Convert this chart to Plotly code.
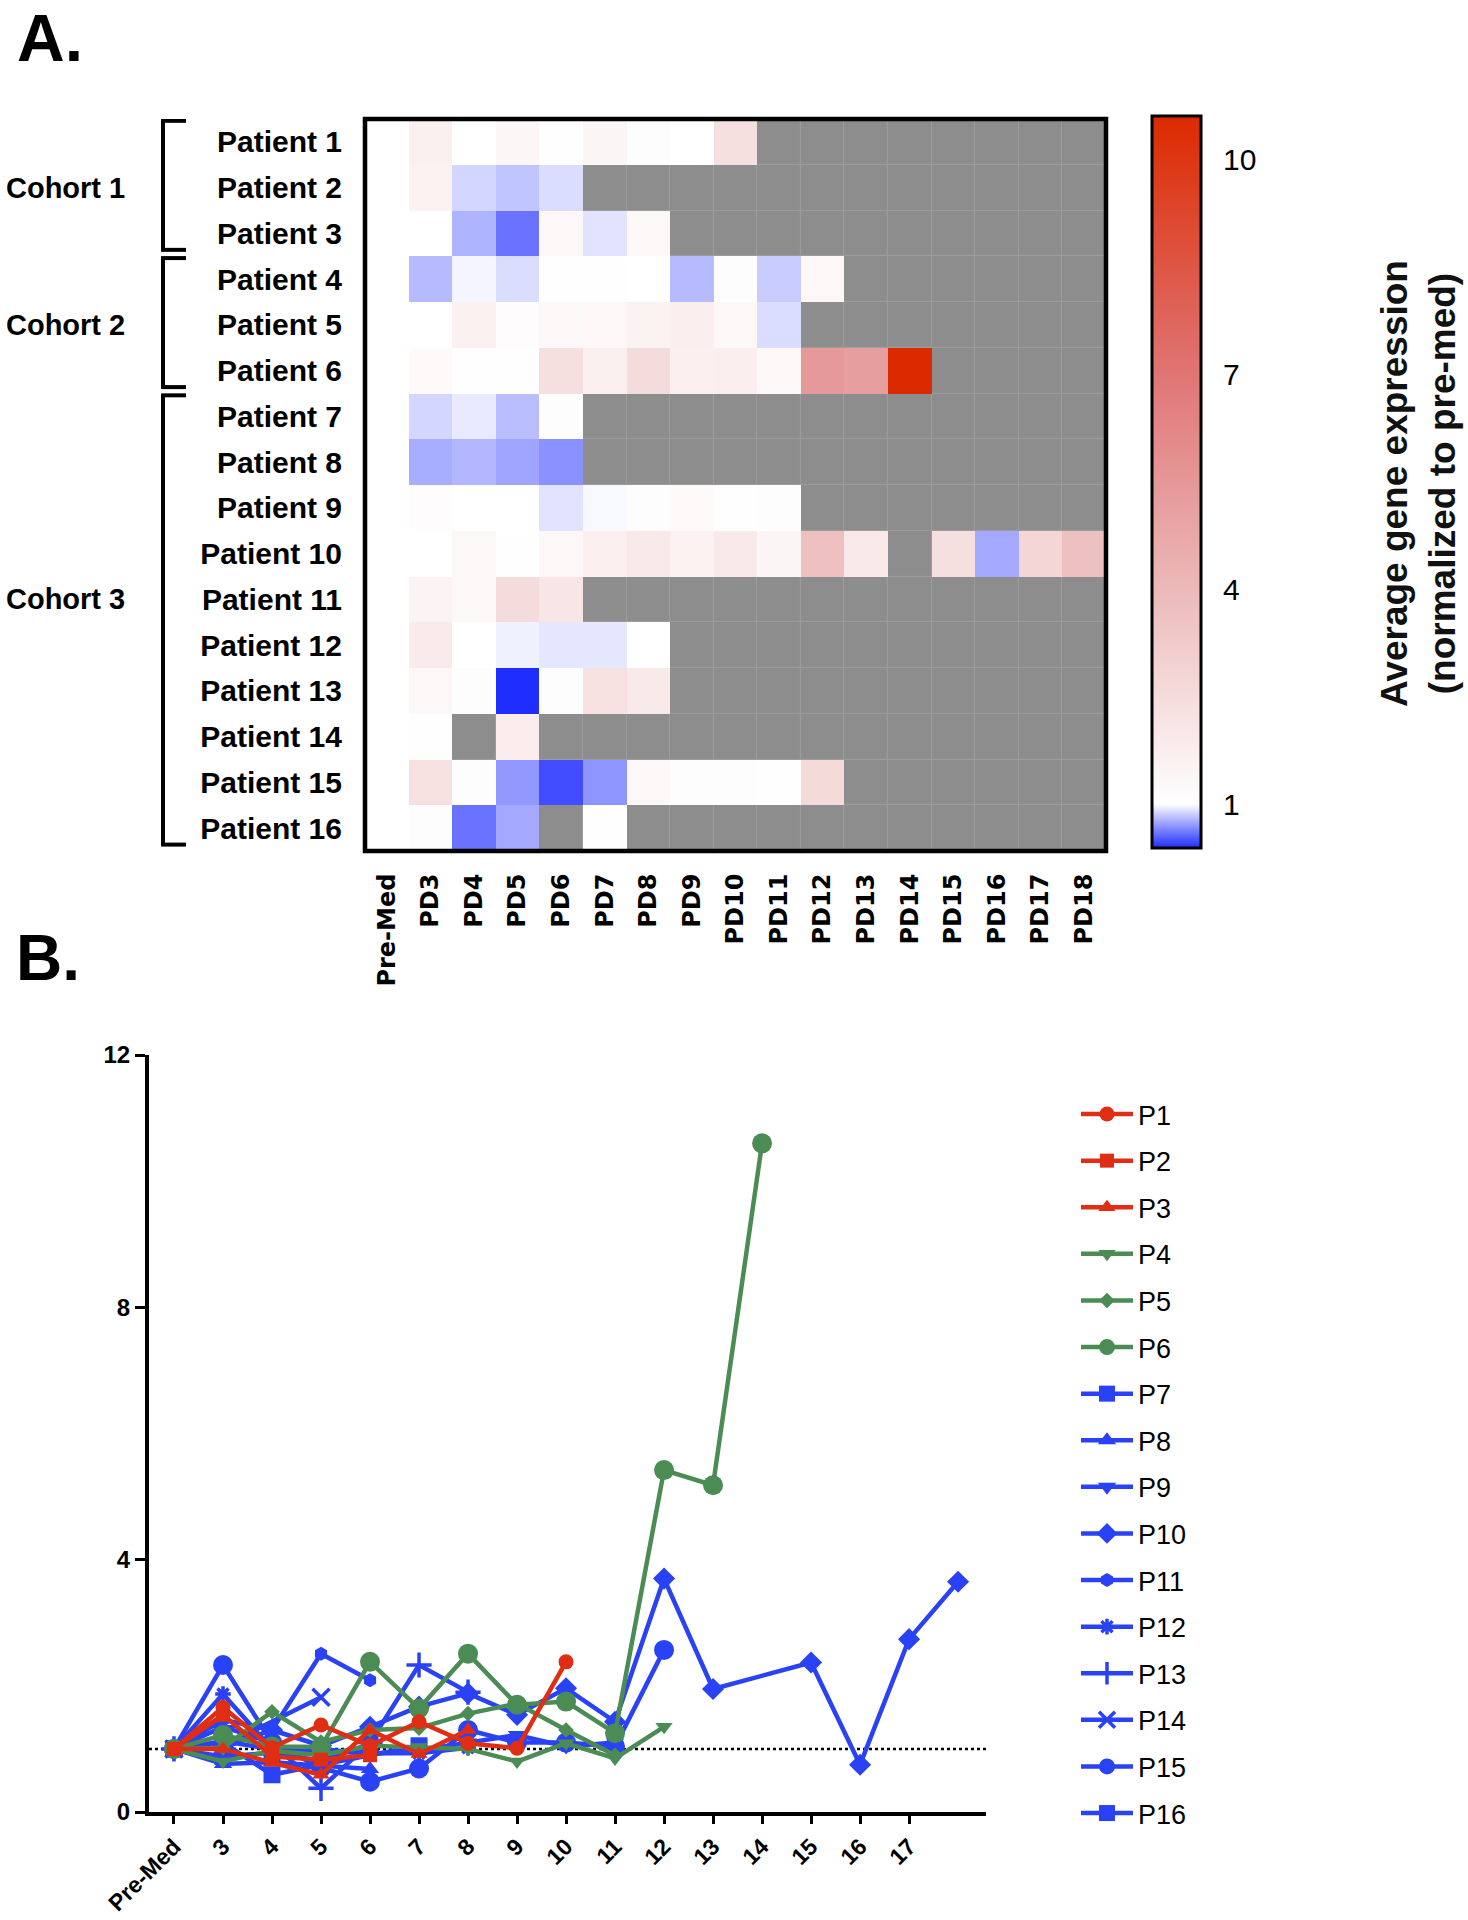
import plotly.graph_objects as go

# ---------------- data ----------------
timepoints = ["Pre-Med", "PD3", "PD4", "PD5", "PD6", "PD7", "PD8", "PD9", "PD10",
              "PD11", "PD12", "PD13", "PD14", "PD15", "PD16", "PD17", "PD18"]
patients = ["Patient 1", "Patient 2", "Patient 3", "Patient 4", "Patient 5", "Patient 6",
            "Patient 7", "Patient 8", "Patient 9", "Patient 10", "Patient 11", "Patient 12",
            "Patient 13", "Patient 14", "Patient 15", "Patient 16"]
series_names = ["P1", "P2", "P3", "P4", "P5", "P6", "P7", "P8",
                "P9", "P10", "P11", "P12", "P13", "P14", "P15", "P16"]

# values per patient: Pre-Med, PD3, PD4, ... (None = not measured)
p1 = [1, 1.66, 1.02, 1.38, 1.05, 1.43, 1.09, 1.01, 2.38]
p2 = [1, 1.54, 0.88, 0.83, 0.90]
p3 = [1, 1.00, 0.78, 0.59, 1.30, 0.92, 1.30]
p4 = [1, 0.80, 0.97, 0.90, 1.05, 1.03, 1.00, 0.80, 1.09, 0.85, 1.35]
p5 = [1, 1.02, 1.59, 1.11, 1.30, 1.33, 1.56, 1.72, 1.30, 0.90]
p6 = [1, 1.22, 1.04, 1.03, 2.38, 1.64, 2.51, 1.70, 1.75, 1.25, 5.42, 5.18, 10.6]
p7 = [1, 0.88, 0.94, 0.81, 1.08]
p8 = [1, 0.76, 0.79, 0.74, 0.68]
p9 = [1, 1.12, 1.00, 1.00, 0.92, 0.98, 1.10, 1.22, 1.04, 1.10]
p10 = [1, 1.02, 1.30, 1.05, 1.35, 1.67, 1.88, 1.54, 1.96, 1.43, 3.70, 1.95, None, 2.37, 0.75, 2.74, 3.65]
p11 = [1, 1.46, 1.30, 2.51, 2.09]
p12 = [1, 1.87, 1.00, 0.96, 0.93, 0.93, 1.02]
p13 = [1, 1.35, 1.10, 0.375, 1.10, 2.33, 1.90]
p14 = [1, 1.05, None, 1.82]
p15 = [1, 2.33, 1.10, 0.70, 0.48, 0.69, 1.30, 1.10, 1.10, 1.04, 2.57]
p16 = [1, 1.10, 0.59, 0.75, None, 1.05]
patient_values = [p1, p2, p3, p4, p5, p6, p7, p8, p9, p10, p11, p12, p13, p14, p15, p16]

cohort_names = ["Cohort 1", "Cohort 2", "Cohort 3"]
cohort_first_row = [0, 3, 6]
cohort_last_row = [2, 5, 15]
cohort_label_row = [1, 4, 10]

day_positions = [2, 3, 4, 5, 6, 7, 8, 9, 10, 11, 12, 13, 14, 15, 16, 17, 18]
day_tick_positions = [2, 3, 4, 5, 6, 7, 8, 9, 10, 11, 12, 13, 14, 15, 16, 17]
day_tick_labels = ["Pre-Med", "3", "4", "5", "6", "7", "8", "9", "10",
                   "11", "12", "13", "14", "15", "16", "17"]
y_ticks = [0, 4, 8, 12]
cbar_ticks = [1, 4, 7, 10]
reference_level = 1
zmin, zmax = 0.386, 10.6

# ---------------- styles ----------------
W, H = 1468, 1920
def fx(px): return px / W
def fy(py): return 1 - py / H

RED, GREEN, BLUE = "#DF2E14", "#4A8C54", "#2A42F6"
styles = [
    (RED, "circle", 15), (RED, "square", 14), (RED, "triangle-up", 15),
    (GREEN, "triangle-down", 15), (GREEN, "diamond", 12), (GREEN, "circle", 20),
    (BLUE, "square", 17), (BLUE, "triangle-up", 16), (BLUE, "triangle-down", 16),
    (BLUE, "diamond", 17), (BLUE, "hexagon", 14), (BLUE, "asterisk-open", 13),
    (BLUE, "cross-thin-open", 18), (BLUE, "x-thin-open", 17), (BLUE, "circle", 20),
    (BLUE, "square", 17),
]
BOLD = "Liberation Sans, Arial, sans-serif"

ncol = len(timepoints)
z = []
zmiss = []
for vals in patient_values:
    row = [vals[i] if i < len(vals) else None for i in range(ncol)]
    z.append(row)
    zmiss.append([1 if v is None else None for v in row])

fig = go.Figure()

# missing cells (grey)
fig.add_trace(go.Heatmap(
    z=zmiss, x=list(range(ncol)), y=list(range(len(patients))),
    colorscale=[[0, "#8d8d8d"], [1, "#8d8d8d"]], showscale=False,
    xgap=1.2, ygap=1.2, hoverinfo="skip", xaxis="x", yaxis="y"))

# data cells
f1 = (1 - zmin) / (zmax - zmin)
f4 = (4 - zmin) / (zmax - zmin)
f7 = (7 - zmin) / (zmax - zmin)
fig.add_trace(go.Heatmap(
    z=z, x=list(range(ncol)), y=list(range(len(patients))),
    zmin=zmin, zmax=zmax,
    colorscale=[[0, "#1f2dff"], [f1, "#ffffff"], [f4, "#ecb9b9"],
                [f7, "#e07575"], [1, "#dc2a00"]],
    xaxis="x", yaxis="y",
    colorbar=dict(
        thickness=49, thicknessmode="pixels", len=732, lenmode="pixels",
        x=fx(1152), xanchor="left", xpad=0, y=fy(848), yanchor="bottom", ypad=0,
        outlinewidth=3, outlinecolor="black",
        tickvals=cbar_ticks, ticktext=[str(v) for v in cbar_ticks],
        ticks="outside", ticklen=15, tickcolor="rgba(0,0,0,0)",
        tickfont=dict(family=BOLD, size=30, color="black")),
))

# line chart (reverse drawing order so red is drawn on top; legend ranked P1..P16)
for idx in reversed(range(len(patient_values))):
    vals = patient_values[idx]
    color, sym, size = styles[idx]
    thin = sym.endswith("-open")
    fig.add_trace(go.Scatter(
        x=day_positions[:len(vals)], y=vals, name=series_names[idx],
        mode="lines+markers", connectgaps=True,
        line=dict(color=color, width=4.5),
        marker=dict(symbol=sym, size=size, color=color,
                    line=dict(color=color, width=3.5 if thin else 0)),
        legendgroup=series_names[idx], legendrank=idx + 1,
        xaxis="x2", yaxis="y2"))

shapes = []
shapes.append(dict(type="rect", xref="x domain", yref="y domain", x0=0, x1=1, y0=0, y1=1,
                   fillcolor="#9b9b9b", line=dict(width=0), layer="below"))
shapes.append(dict(type="rect", xref="x domain", yref="y domain", x0=0, x1=1, y0=0, y1=1,
                   line=dict(color="black", width=4.5), layer="above"))
for first, last in zip(cohort_first_row, cohort_last_row):
    top, bot = first - 0.46, last + 0.36
    bx0, bx1 = fx(163), fx(186)
    shapes.append(dict(type="line", xref="paper", yref="y", x0=bx0, x1=bx0, y0=top, y1=bot,
                       line=dict(color="black", width=4)))
    shapes.append(dict(type="line", xref="paper", yref="y", x0=bx0 - 0.0013, x1=bx1, y0=top, y1=top,
                       line=dict(color="black", width=4)))
    shapes.append(dict(type="line", xref="paper", yref="y", x0=bx0 - 0.0013, x1=bx1, y0=bot, y1=bot,
                       line=dict(color="black", width=4)))
cb_y0, cb_len = fy(848), 732 / H
for v in cbar_ticks:
    yp = cb_y0 + (v - zmin) / (zmax - zmin) * cb_len
    for a, b in [(1152, 1164), (1189, 1201)]:
        shapes.append(dict(type="line", xref="paper", yref="paper", x0=fx(a), x1=fx(b),
                           y0=yp, y1=yp, line=dict(color="black", width=3)))
shapes.append(dict(type="line", xref="x2 domain", yref="y2", x0=0, x1=1,
                   y0=reference_level, y1=reference_level,
                   line=dict(color="black", width=2.5, dash="dot"), layer="below"))

annotations = [
    dict(text="A.", x=fx(16), y=1.0, xref="paper", yref="paper", xanchor="left",
         yanchor="top", showarrow=False, borderpad=0,
         font=dict(family=BOLD, size=66, color="black", weight="bold")),
    dict(text="B.", x=fx(14), y=fy(958), xref="paper", yref="paper", xanchor="left",
         yanchor="middle", showarrow=False,
         font=dict(family=BOLD, size=64, color="black", weight="bold")),
    dict(text="Average gene expression<br>(normalized to pre-med)", x=fx(1418), y=fy(484),
         xref="paper", yref="paper", xanchor="center", yanchor="middle", textangle=-90,
         showarrow=False, font=dict(family=BOLD, size=37, color="#111", weight="bold")),
]
for name, row in zip(cohort_names, cohort_label_row):
    annotations.append(dict(text=name, x=fx(4), y=row, xref="paper", yref="y", xanchor="left",
                            yanchor="middle", showarrow=False,
                            font=dict(family=BOLD, size=29, color="black", weight="bold")))

fig.update_layout(
    width=W, height=H, template="none",
    margin=dict(l=0, r=0, t=0, b=0),
    paper_bgcolor="white", plot_bgcolor="white",
    showlegend=True,
    xaxis=dict(domain=[fx(365), fx(1106)], range=[-0.5, ncol - 0.5], anchor="y",
               tickvals=list(range(ncol)), ticktext=timepoints, tickangle=-90,
               tickfont=dict(family="DejaVu Sans", size=24, color="black", weight="bold"),
               ticks="outside", ticklen=12, tickcolor="rgba(0,0,0,0)",
               showgrid=False, zeroline=False, showline=False),
    yaxis=dict(domain=[fy(851), fy(119)], range=[len(patients) - 0.5, -0.5], anchor="x",
               tickvals=list(range(len(patients))), ticktext=patients,
               tickfont=dict(family=BOLD, size=30, color="black", weight="bold"),
               ticks="outside", ticklen=16, tickcolor="rgba(0,0,0,0)",
               showgrid=False, zeroline=False, showline=False),
    xaxis2=dict(domain=[fx(149), fx(986)], range=[1.49, 18.57], anchor="y2",
                tickvals=day_tick_positions, ticktext=day_tick_labels, tickangle=-45,
                tickfont=dict(family=BOLD, size=23, color="black", weight="bold"),
                ticks="outside", ticklen=8, tickwidth=3, tickcolor="black",
                showline=True, linewidth=4, linecolor="black",
                showgrid=False, zeroline=False),
    yaxis2=dict(domain=[fy(1812), fy(1055)], range=[0, 12], anchor="x2",
                tickvals=y_ticks, ticktext=[str(v) for v in y_ticks],
                tickfont=dict(family=BOLD, size=24, color="black", weight="bold"),
                ticks="outside", ticklen=10, tickwidth=3, tickcolor="black",
                showline=True, linewidth=4, linecolor="black",
                showgrid=False, zeroline=False),
    legend=dict(x=fx(1076), y=fy(1090), xanchor="left", yanchor="top",
                font=dict(family=BOLD, size=27, color="black"),
                traceorder="grouped", tracegroupgap=8.5, itemwidth=52,
                bgcolor="rgba(0,0,0,0)"),
    shapes=shapes, annotations=annotations,
)

fig.write_html("out.html", config={"displayModeBar": False},
               post_script="document.body.style.margin='0px';")
